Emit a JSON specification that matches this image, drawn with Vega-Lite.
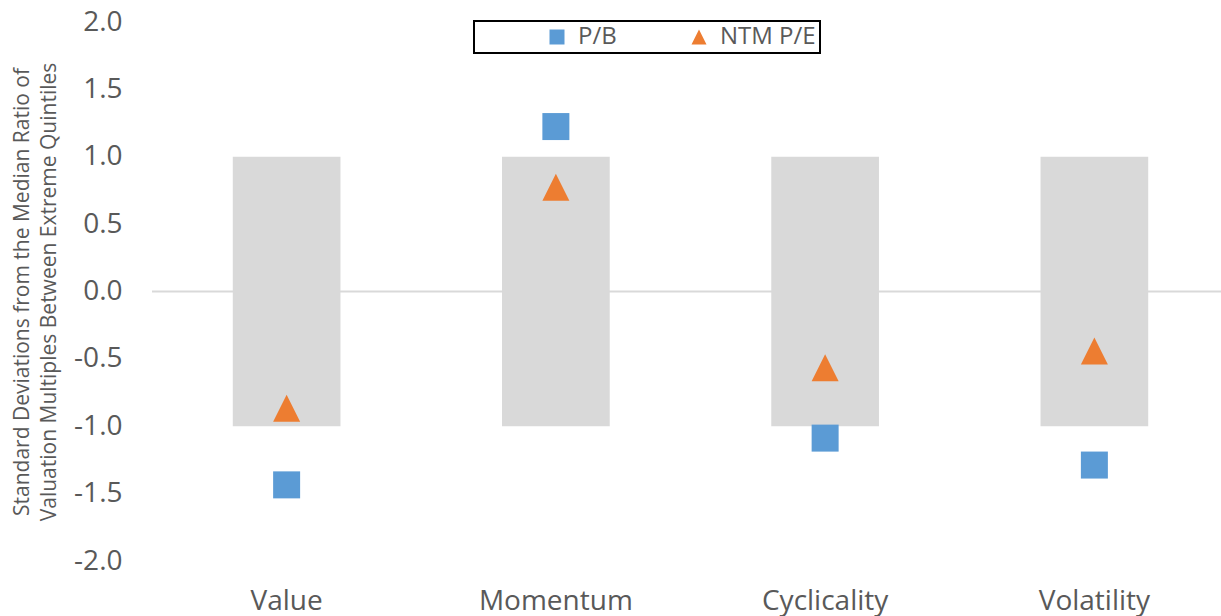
{
  "$schema": "https://vega.github.io/schema/vega-lite/v6.json",
  "autosize": "none",
  "width": 1077,
  "height": 539,
  "padding": {"left": 152, "top": 22, "right": 0, "bottom": 55},
  "background": "white",
  "config": {
    "view": {"stroke": null},
    "font": "Open Sans",
    "legend": {
      "orient": "none",
      "legendX": 322,
      "legendY": -1,
      "direction": "horizontal",
      "strokeColor": "black",
      "strokeWidth": 2,
      "fillColor": "white",
      "padding": 4,
      "symbolOffset": 67,
      "symbolSize": 225,
      "symbolStrokeWidth": 0,
      "labelFontSize": 24,
      "labelColor": "#595959",
      "labelOffset": 9,
      "labelLimit": 400,
      "columnPadding": 3,
      "title": null
    }
  },
  "datasets": {
    "bands": [
      {"category": "Value", "lo": -1, "hi": 1},
      {"category": "Momentum", "lo": -1, "hi": 1},
      {"category": "Cyclicality", "lo": -1, "hi": 1},
      {"category": "Volatility", "lo": -1, "hi": 1}
    ],
    "points": [
      {"category": "Value", "series": "P/B", "value": -1.435},
      {"category": "Value", "series": "NTM P/E", "value": -0.866},
      {"category": "Momentum", "series": "P/B", "value": 1.224},
      {"category": "Momentum", "series": "NTM P/E", "value": 0.773},
      {"category": "Cyclicality", "series": "P/B", "value": -1.088},
      {"category": "Cyclicality", "series": "NTM P/E", "value": -0.565},
      {"category": "Volatility", "series": "P/B", "value": -1.288},
      {"category": "Volatility", "series": "NTM P/E", "value": -0.441}
    ]
  },
  "layer": [
    {
      "data": {"values": [{}]},
      "mark": {"type": "rule", "color": "#d9d9d9", "strokeWidth": 2},
      "encoding": {"y": {"datum": 0, "type": "quantitative"}}
    },
    {
      "data": {"name": "bands"},
      "mark": {"type": "bar", "color": "#d9d9d9", "width": {"band": 0.4}},
      "encoding": {
        "x": {
          "field": "category",
          "type": "nominal",
          "sort": ["Value", "Momentum", "Cyclicality", "Volatility"],
          "scale": {"type": "band", "paddingInner": 0, "paddingOuter": 0},
          "axis": {
            "title": null,
            "labelAngle": 0,
            "labelFontSize": 28,
            "labelColor": "#595959",
            "labelPadding": 26,
            "domain": false,
            "ticks": false,
            "grid": false
          }
        },
        "y": {
          "field": "lo",
          "type": "quantitative",
          "scale": {"domain": [-2, 2], "nice": false, "zero": false},
          "axis": {
            "values": [-2, -1.5, -1, -0.5, 0, 0.5, 1, 1.5, 2],
            "labelExpr": "replace(format(datum.value, '.1f'), '\u2212', '-')",
            "labelFontSize": 28,
            "labelColor": "#595959",
            "labelPadding": 30,
            "domain": false,
            "ticks": false,
            "grid": false,
            "title": ["Standard Deviations from the Median Ratio of", "Valuation Multiples Between Extreme Quintiles"],
            "titleFontSize": 21,
            "titleFontWeight": "normal",
            "titleColor": "#595959",
            "titlePadding": 14,
            "titleLineHeight": 27
          }
        },
        "y2": {"field": "hi"}
      }
    },
    {
      "data": {"name": "points"},
      "mark": {"type": "point", "filled": true, "opacity": 1},
      "encoding": {
        "x": {"field": "category", "type": "nominal", "sort": ["Value", "Momentum", "Cyclicality", "Volatility"]},
        "y": {"field": "value", "type": "quantitative"},
        "shape": {
          "field": "series",
          "type": "nominal",
          "scale": {"domain": ["P/B", "NTM P/E"], "range": ["square", "M0,-1L1,1L-1,1Z"]},
          "legend": {
            "labelExpr": "datum.label == 'NTM P/E' ? datum.label + '\u00a0\u00a0\u00a0\u00a0\u00a0\u00a0\u00a0\u00a0\u00a0\u00a0' : datum.label"
          }
        },
        "color": {
          "field": "series",
          "type": "nominal",
          "scale": {"domain": ["P/B", "NTM P/E"], "range": ["#5b9bd5", "#ed7d31"]},
          "legend": {
            "labelExpr": "datum.label == 'NTM P/E' ? datum.label + '\u00a0\u00a0\u00a0\u00a0\u00a0\u00a0\u00a0\u00a0\u00a0\u00a0' : datum.label"
          }
        },
        "size": {"value": 729}
      }
    }
  ]
}
